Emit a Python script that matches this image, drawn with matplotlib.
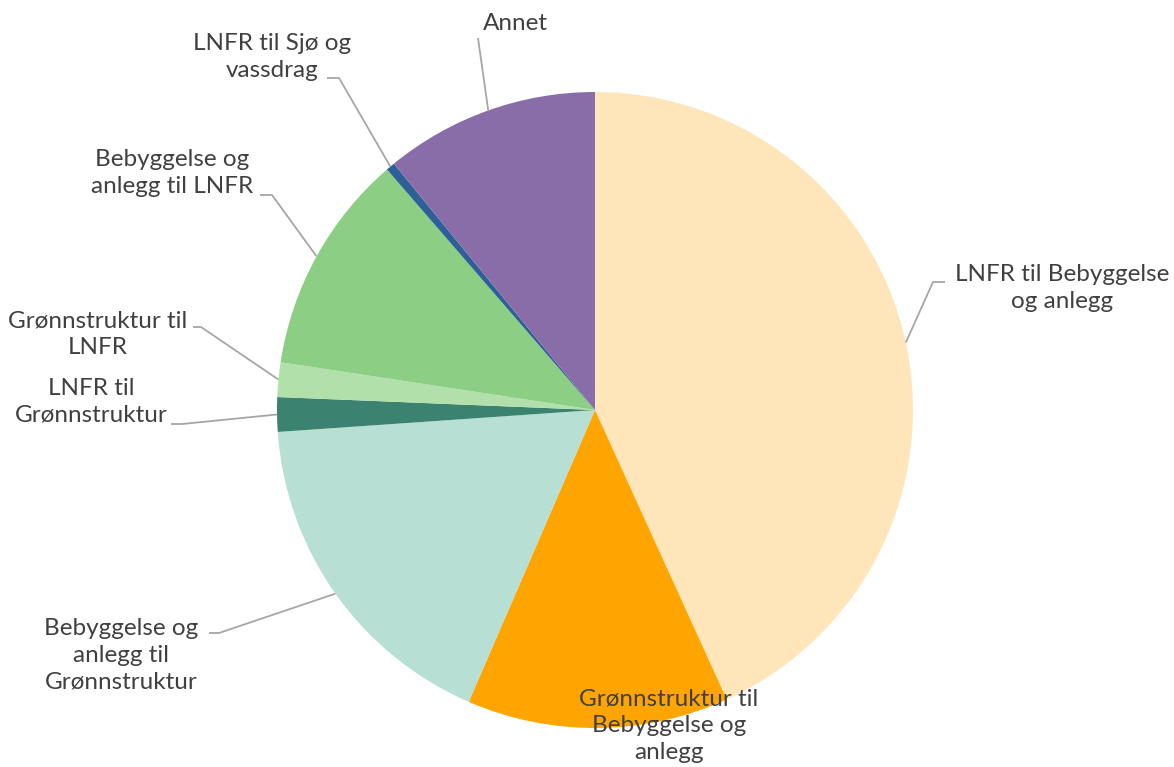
import matplotlib
matplotlib.use('AGG')
import matplotlib.pyplot as plt
import numpy as np

# andel av arealendringer (%), lest av figuren
categories = [
    'LNFR til Bebyggelse\nog anlegg',
    'Grønnstruktur til\nBebyggelse og\nanlegg',
    'Bebyggelse og\nanlegg til\nGrønnstruktur',
    'LNFR til\nGrønnstruktur',
    'Grønnstruktur til\nLNFR',
    'Bebyggelse og\nanlegg til LNFR',
    'LNFR til Sjø og\nvassdrag',
    'Annet',
]
values = [43.2, 13.3, 17.4, 1.75, 1.75, 11.25, 0.45, 10.9]
colors = ['#FFE6BA', '#FFA502', '#B8DFD4', '#3C8270', '#B2E0AA',
          '#8CCF84', '#2F5F97', '#886DA8']

W, H = 1174, 767

# label placement in pixel coords (x, y from top): text centre, elbow, line end
label_pos = [(1062, 288), (669, 726), (121, 655), (91, 402),
             (98, 334), (172, 173), (272, 57), (515, 24)]
elbows = [(933, 282), None, (219, 633), (182, 424),
          (201, 327), (272, 195), (339, 78), None]
ends = [(945, 282), None, (209, 633), (171, 424),
        (193, 327), (260, 195), (327, 78), (478, 38)]

plt.rcParams['font.family'] = ['Lato', 'DejaVu Sans']

fig = plt.figure(figsize=(W / 100, H / 100), dpi=100)
ax = fig.add_axes([0, 0, 1, 1])

cx, cy, r = 595, H - 410, 318
wedges, _ = ax.pie(values, colors=colors, startangle=90, counterclock=False,
                   center=(cx, cy), radius=r, frame=True,
                   wedgeprops=dict(linewidth=0))
ax.set_xlim(0, W)
ax.set_ylim(0, H)
ax.set_aspect('equal')
ax.axis('off')

line_col = '#A6A6A6'
for i, w in enumerate(wedges):
    tx, ty = label_pos[i]
    ax.text(tx, H - ty, categories[i], ha='center', va='center',
            fontsize=17.5, color='#404040', linespacing=1.35)
    if ends[i] is None:
        continue
    mid = np.deg2rad((w.theta1 + w.theta2) / 2)
    px, py = cx + r * np.cos(mid), cy + r * np.sin(mid)
    xs, ys = [px], [py]
    if elbows[i] is not None:
        xs.append(elbows[i][0])
        ys.append(H - elbows[i][1])
    xs.append(ends[i][0])
    ys.append(H - ends[i][1])
    ax.plot(xs, ys, color=line_col, linewidth=1.3, solid_capstyle='butt')

fig.savefig('out.png', dpi=100)
